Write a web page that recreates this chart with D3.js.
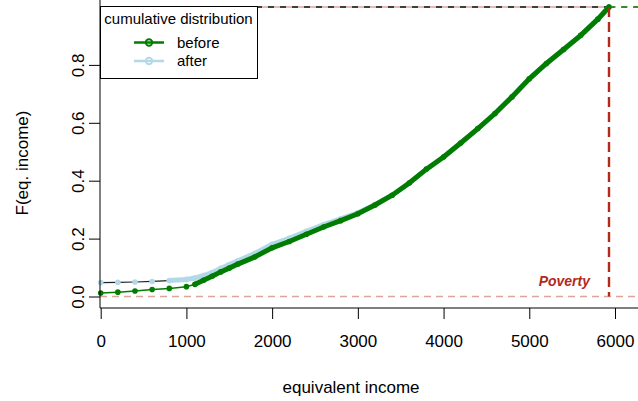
<!DOCTYPE html>
<html>
<head>
<meta charset="utf-8">
<script src="https://cdn.jsdelivr.net/npm/d3@7"></script>
<style>
  body { margin: 0; background: #fff; }
  svg { display: block; font-family: "Liberation Sans", Arial, sans-serif; }
</style>
</head>
<body>
<svg width="638" height="401"></svg>
<script>
// equivalent income (x) and cumulative share (F)
var incomeX = [0, 200, 400, 600, 800, 1000, 1100, 1200, 1300, 1400, 1500, 1600, 1800, 2000, 2200, 2400, 2600, 2800, 3000,
               3200, 3400, 3600, 3800, 4000, 4200, 4400, 4600, 4800, 5000, 5200, 5400, 5600, 5800, 5930];
var beforeF = [0.012, 0.015, 0.019, 0.024, 0.028, 0.034, 0.042, 0.056, 0.070, 0.085, 0.098, 0.112, 0.137, 0.168, 0.190, 0.215, 0.240, 0.262, 0.286,
               0.316, 0.350, 0.392, 0.440, 0.482, 0.530, 0.580, 0.632, 0.690, 0.752, 0.805, 0.853, 0.902, 0.958, 1.0];
var afterF  = [0.048, 0.049, 0.050, 0.052, 0.055, 0.059, 0.064, 0.072, 0.083, 0.097, 0.110, 0.123, 0.149, 0.180, 0.201, 0.225, 0.248, 0.268, 0.289,
               0.317, 0.350, 0.392, 0.440, 0.482, 0.530, 0.580, 0.632, 0.690, 0.752, 0.805, 0.853, 0.902, 0.958, 1.0];
var povertyLine = 5930;
var xTicks = [0, 1000, 2000, 3000, 4000, 5000, 6000];
var yTicks = [0, 0.2, 0.4, 0.6, 0.8];
var legendLabels = ["before", "after"];

var green = "#007d00", blue = "#b3d9e8", red = "#b22a1a", pink = "#dca59c";

var svg = d3.select("svg");
var x = d3.scaleLinear().domain([0, 6000]).range([100.7, 615]);
var y = d3.scaleLinear().domain([0, 1]).range([296.5, 7]);
var axisY = 308;

var before = incomeX.map(function(d, i) { return [d, beforeF[i]]; });
var after = incomeX.map(function(d, i) { return [d, afterF[i]]; });

var line = d3.line()
    .x(function(d) { return x(d[0]); })
    .y(function(d) { return y(d[1]); });

// reference lines at 0 and 1
svg.append("line")
    .attr("x1", 100).attr("x2", x(povertyLine))
    .attr("y1", y(1)).attr("y2", y(1))
    .attr("stroke", "#000").attr("stroke-width", 1.3)
    .attr("stroke-dasharray", "6,6");
svg.append("line")
    .attr("x1", 100).attr("x2", 638)
    .attr("y1", y(1)).attr("y2", y(1))
    .attr("stroke", pink).attr("stroke-width", 1.6)
    .attr("stroke-dasharray", "6,6").attr("stroke-dashoffset", 6);
svg.append("line")
    .attr("x1", x(povertyLine)).attr("x2", 638)
    .attr("y1", y(1)).attr("y2", y(1))
    .attr("stroke", green).attr("stroke-width", 1.3)
    .attr("stroke-dasharray", "6,6");
svg.append("line")
    .attr("x1", 100).attr("x2", 638)
    .attr("y1", y(0)).attr("y2", y(0))
    .attr("stroke", pink).attr("stroke-width", 1.6)
    .attr("stroke-dasharray", "7,5");

// after curve
var afterFlat = after.filter(function(d) { return d[0] <= 800; });
var afterRise = after.filter(function(d) { return d[0] >= 800; });
svg.append("path").datum(afterFlat).attr("d", line)
    .attr("fill", "none").attr("stroke", "#222").attr("stroke-width", 1.2);
svg.append("path").datum(afterRise).attr("d", line)
    .attr("fill", "none").attr("stroke", blue).attr("stroke-width", 5)
    .attr("stroke-linecap", "round");
svg.selectAll(".dotA").data(after).enter().append("circle")
    .attr("cx", function(d) { return x(d[0]); })
    .attr("cy", function(d) { return y(d[1]); })
    .attr("r", 2.8).attr("fill", blue);

// before curve
var beforeFlat = before.filter(function(d) { return d[0] <= 1100; });
var beforeRise = before.filter(function(d) { return d[0] >= 1100; });
svg.append("path").datum(beforeFlat).attr("d", line)
    .attr("fill", "none").attr("stroke", green).attr("stroke-width", 1.5);
svg.append("path").datum(beforeRise).attr("d", line)
    .attr("fill", "none").attr("stroke", green).attr("stroke-width", 5)
    .attr("stroke-linecap", "round");
svg.selectAll(".dotB").data(before).enter().append("circle")
    .attr("cx", function(d) { return x(d[0]); })
    .attr("cy", function(d) { return y(d[1]); })
    .attr("r", 2.8).attr("fill", green);

// poverty line
svg.append("line")
    .attr("x1", x(povertyLine)).attr("x2", x(povertyLine))
    .attr("y1", y(1)).attr("y2", y(0))
    .attr("stroke", red).attr("stroke-width", 2.4)
    .attr("stroke-dasharray", "10,5");
svg.append("text")
    .attr("x", x(povertyLine) - 19).attr("y", 286)
    .attr("text-anchor", "end")
    .attr("fill", red)
    .style("font-size", "14px").style("font-weight", "bold").style("font-style", "italic")
    .text("Poverty");

// axes
var xAxis = svg.append("g")
    .attr("transform", "translate(0," + axisY + ")")
    .call(d3.axisBottom(x).tickValues(xTicks).tickSize(11).tickSizeOuter(0).tickPadding(16)
        .tickFormat(d3.format("d")));
xAxis.select(".domain").attr("d", "M100,0H638");
xAxis.selectAll("text").style("font-size", "17px").attr("fill", "#000");

var yAxis = svg.append("g")
    .attr("transform", "translate(100,0)")
    .call(d3.axisLeft(y).tickValues(yTicks).tickSize(11).tickSizeOuter(0)
        .tickFormat(d3.format(".1f")));
yAxis.select(".domain").attr("d", "M0,0V" + axisY);
yAxis.selectAll("text")
    .style("font-size", "17px").attr("fill", "#000")
    .attr("x", null).attr("dy", null)
    .attr("text-anchor", "middle")
    .attr("transform", "translate(-16,0) rotate(-90)");

svg.append("text")
    .attr("x", 351).attr("y", 393)
    .attr("text-anchor", "middle")
    .style("font-size", "17px")
    .text("equivalent income");
svg.append("text")
    .attr("transform", "translate(28,163) rotate(-90)")
    .attr("text-anchor", "middle")
    .style("font-size", "17px")
    .text("F(eq. income)");

// legend
var lg = svg.append("g");
lg.append("rect")
    .attr("x", 100.5).attr("y", 6.5).attr("width", 157).attr("height", 72)
    .attr("fill", "#fff").attr("stroke", "#000").attr("stroke-width", 1);
lg.append("text")
    .attr("x", 178.5).attr("y", 24)
    .attr("text-anchor", "middle")
    .style("font-size", "15px")
    .text("cumulative distribution");
var legendColors = [green, blue];
legendLabels.forEach(function(lab, i) {
    var ly = 42.5 + i * 18.5;
    lg.append("line")
        .attr("x1", 134).attr("x2", 164).attr("y1", ly).attr("y2", ly)
        .attr("stroke", legendColors[i]).attr("stroke-width", 2.5);
    lg.append("circle")
        .attr("cx", 149).attr("cy", ly).attr("r", 3.2)
        .attr("fill", "none").attr("stroke", legendColors[i]).attr("stroke-width", 2);
    lg.append("text")
        .attr("x", 177).attr("y", ly + 5)
        .style("font-size", "15px")
        .text(lab);
});
</script>
</body>
</html>
